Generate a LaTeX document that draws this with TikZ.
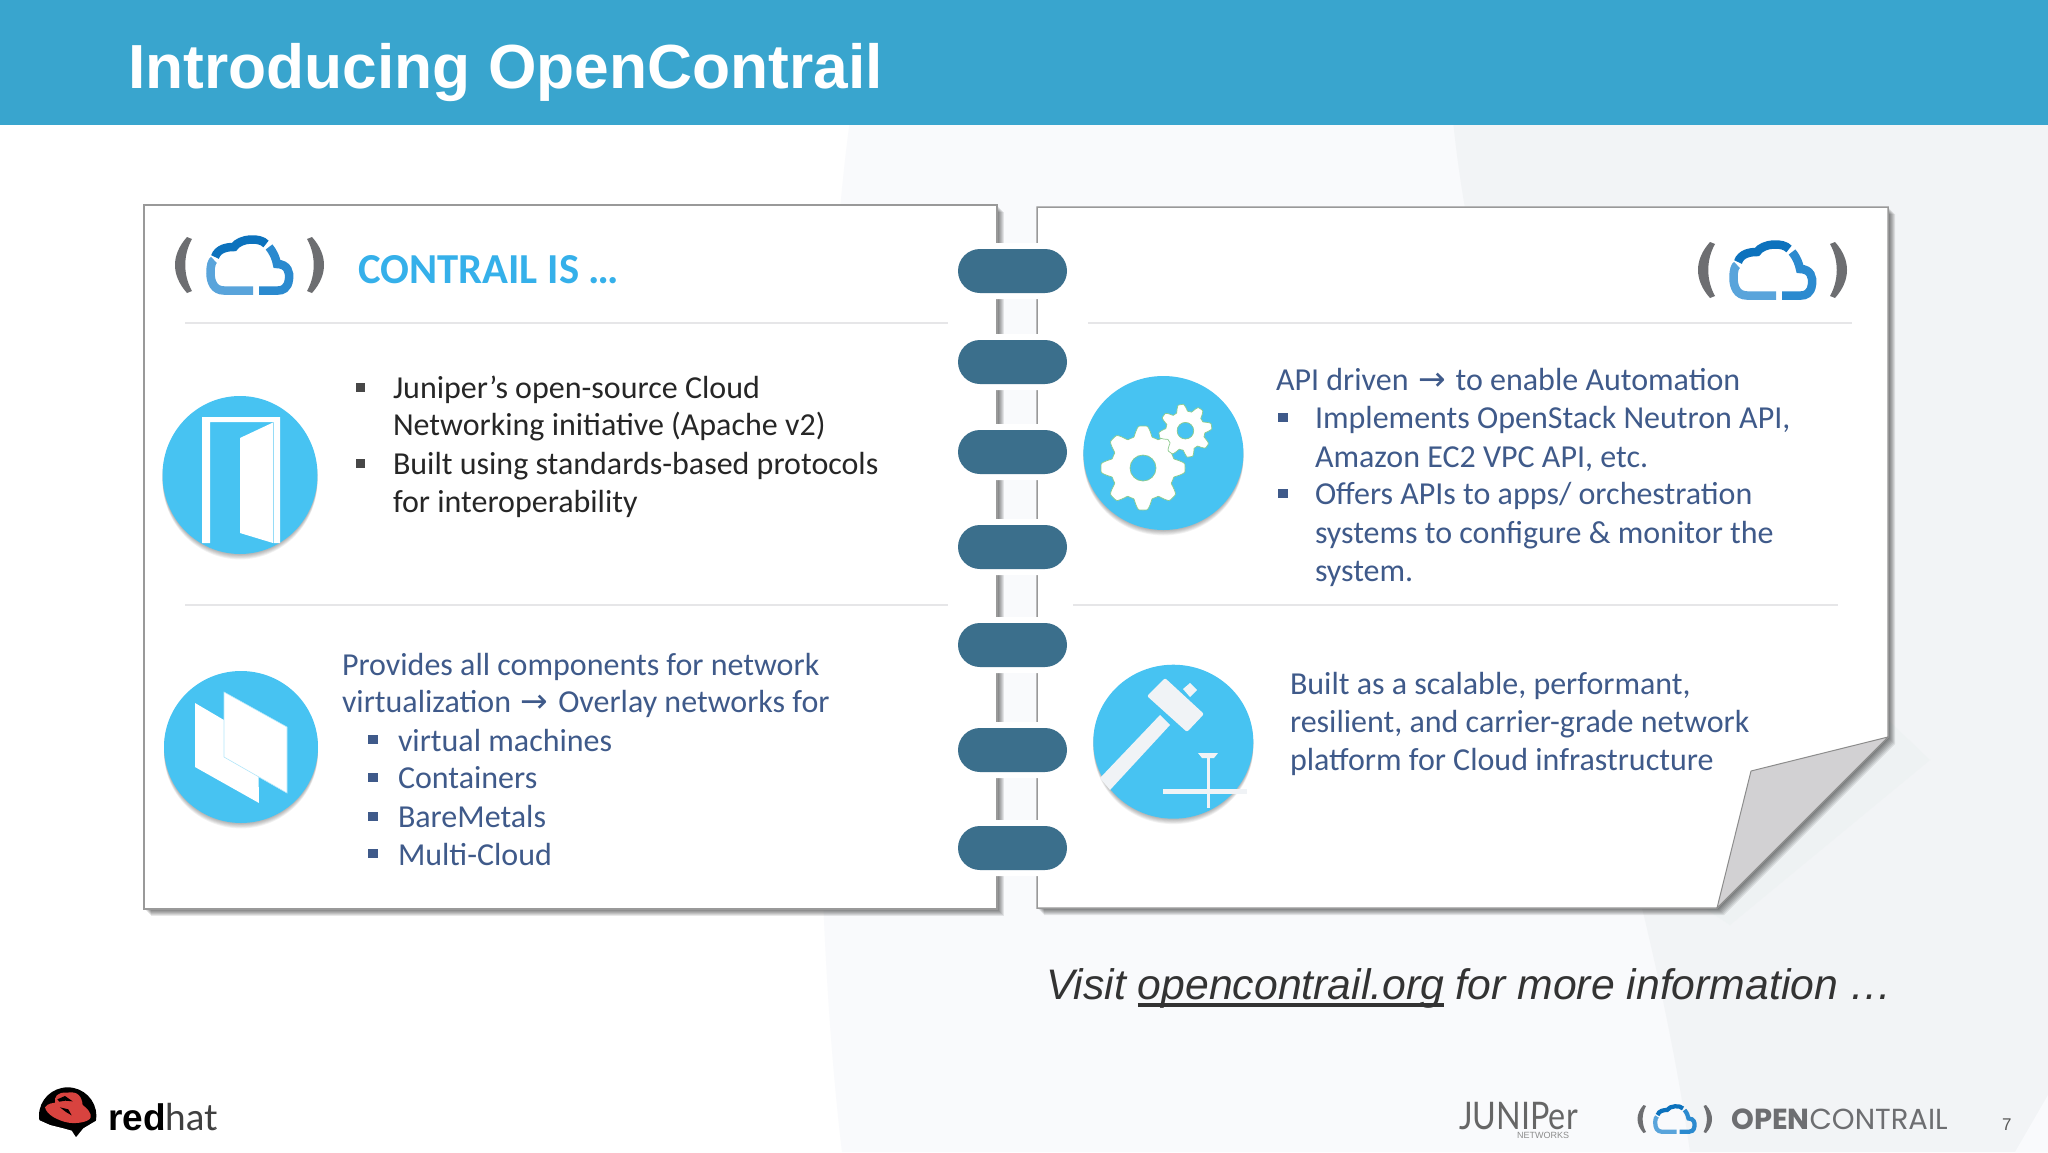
\documentclass[tikz,border=0pt]{standalone}
\usepackage{fontspec}
\setmainfont{Carlito}
\newfontfamily\arialf{Liberation Sans}
\newfontfamily\popf{Poppins}
\newfontfamily\latof{Lato}
\newfontfamily\arrf{DejaVu Sans}
\usetikzlibrary{calc}
\definecolor{headblue}{HTML}{39A5CE}
\definecolor{txtblue}{HTML}{3F5A8A}
\definecolor{txtdark}{HTML}{262626}
\definecolor{sky}{HTML}{47C3F2}
\definecolor{ring}{HTML}{3B6F8C}
\definecolor{rule}{HTML}{E6E6E8}
\definecolor{logogrey}{HTML}{6D6E71}
\definecolor{cdark}{HTML}{0C72BD}
\definecolor{cmid}{HTML}{2B8ACF}
\definecolor{clight}{HTML}{59A4DB}
\definecolor{hatred}{HTML}{D8433F}
\definecolor{bgA}{HTML}{F9FAFC}
\definecolor{bgC}{HTML}{F2F4F6}
\definecolor{bgB}{HTML}{EEF2F3}
\definecolor{iconh}{HTML}{F0F3F6}
\definecolor{foldc}{HTML}{D2D1D3}
\tikzset{
  panel/.style={draw=black!40,line width=1.5pt,fill=white},
  pillin/.style={rounded corners=22pt,fill=ring},
  sep/.style={draw=rule,line width=1.2pt},
  bt/.style={anchor=base west,inner sep=0pt,outer sep=0pt,font=\fontsize{32}{32}\selectfont,text=txtblue},
  bd/.style={bt,text=txtdark},
  bullb/.style={fill=txtblue},
  bulld/.style={fill=txtdark!85},
  disc/.style={fill=sky},
  wshape/.style={fill=white},
}
\newcommand{\softshadow}[1]{%
  \foreach \k in {7,6,5,4,3,2,1}{%
    \fill[black,opacity=0.09,shift={(\k,\k)}] #1;
  }%
}
\newcommand{\discshadow}[3]{%
  \foreach \k in {6,5,4,3,2,1}{%
    \fill[black,opacity=0.05] (#1,#2+\k*0.9) ellipse [#3];
  }%
  \fill[disc] (#1,#2) ellipse [#3];
}
\newcommand{\cloudlogo}[3]{%
\begin{scope}[shift={(#1,#2)},scale=#3]
  \fill[logogrey] (-63,-28) -- (-58,-26) .. controls (-67,-10) and (-67,10) .. (-58,26) -- (-63,28) .. controls (-79,10) and (-79,-10) .. (-63,-28) -- cycle;
  \fill[logogrey] (62,-28) -- (57,-26) .. controls (66,-10) and (66,10) .. (57,26) -- (62,28) .. controls (78,10) and (78,-10) .. (62,-28) -- cycle;
  \begin{scope}[line width=#3*8.5pt]
  \draw[cdark] (-35,-8) .. controls (-32,-17) and (-22,-18) .. (-16,-18) .. controls (-10,-27) and (10,-28) .. (16,-21);
  \draw[cmid] (19,-18) .. controls (24,-12) and (26,-6) .. (27,-1) .. controls (38,-1) and (40,8) .. (39,14) .. controls (38,24) and (32,25.5) .. (28,25.5) -- (9,25.5);
  \draw[clight] (3,25.5) -- (-26,25.5) .. controls (-36,25.5) and (-39.5,17) .. (-39.5,8) .. controls (-39.5,0) and (-38,-4) .. (-36,-5);
  \end{scope}
\end{scope}}
\newcommand{\gear}[6]{%
  \fill[white,draw=green!55!black!45,line width=.7pt] plot[domain=0:360,samples=181,variable=\t] ({#1+(#3+#4*max(-1,min(1,1.5*cos(8*(\t+#6)))))*cos(\t)},{#2+(#3+#4*max(-1,min(1,1.5*cos(8*(\t+#6)))))*sin(\t)}) -- cycle;
  \fill[sky,draw=green!55!black!45,line width=.7pt] (#1,#2) circle [radius=#5];
}
\newcommand{\thickul}[1]{\setbox0\hbox{#1}\rlap{\rule[-7.5pt]{\wd0}{3.5pt}}\box0\relax}
\newcommand{\arr}{\hspace{2.5pt}{\arrf\fontsize{33}{33}\selectfont →}\hspace{2.5pt}}
\begin{document}
\begin{tikzpicture}[x=1pt,y=-1pt]
\useasboundingbox (0,0) rectangle (2048,1152);
% background
\fill[white] (0,0) rectangle (2048,1152);
\fill[bgA] (850,120) .. controls (825,300) and (800,800) .. (842,1152) -- (2048,1152) -- (2048,120) -- cycle;
\fill[bgC] (1453,120) .. controls (1480,400) and (1640,800) .. (1690,1152) -- (2048,1152) -- (2048,120) -- cycle;
\fill[bgB] (1888,720) -- (1700,905) -- (1730,925) -- (1930,760) -- cycle;
\fill[bgA] (2048,1095) -- (2015,1152) -- (2048,1152) -- cycle;
\fill[headblue] (0,0) rectangle (2048,125);
\node[anchor=base west,inner sep=0pt,text=white,font=\arialf\bfseries\fontsize{62.3}{62.3}\selectfont] (title) at (128,88) {Introducing OpenContrail};
% left panel
\softshadow{(144,205) -- (997,205) -- (997,909) -- (144,909) -- cycle}
\draw[panel] (144,205) -- (997,205) -- (997,909) -- (144,909) -- cycle;
% right panel
\softshadow{(1037,207) -- (1888,207) -- (1888,737) -- (1717,908) -- (1037,908) -- cycle}
\draw[panel] (1037,207) -- (1888,207) -- (1888,737) -- (1717,908) -- (1037,908) -- cycle;
\draw[draw=black!45,line width=1pt,fill=foldc] (1888,737) -- (1751,771) -- (1717,908) -- cycle;
% separators
\coordinate (s1a) at (185,323); \coordinate (s1b) at (948,323);
\coordinate (s2a) at (1088,323); \coordinate (s2b) at (1852,323);
\coordinate (s3a) at (185,605); \coordinate (s3b) at (948,605);
\coordinate (s4a) at (1073,605); \coordinate (s4b) at (1838,605);
\draw[sep] (s1a) -- (s1b); \draw[sep] (s2a) -- (s2b); \draw[sep] (s3a) -- (s3b); \draw[sep] (s4a) -- (s4b);
% rings
\foreach \c in {271,362,452,547,645,750,848}{
  \fill[white,rounded corners=28pt] (952,\c-28) rectangle (1073,\c+28);
  \fill[pillin] (958,\c-22) rectangle (1067,\c+22);
}
% logos
\cloudlogo{250}{265}{1}
\cloudlogo{1773}{270}{1}
\cloudlogo{1675}{1119}{0.5}
\node[anchor=base west,inner sep=0pt,text={rgb,255:red,53;green,176;blue,234},font=\bfseries\fontsize{42.7}{42.7}\selectfont] (ci) at (358,283) {CONTRAIL IS …};
% door icon
\discshadow{240}{475}{x radius=77.5,y radius=79}
\fill[wshape] (202,417) -- (280,417) -- (280,543) -- (273.5,543) -- (273.5,422) -- (210,422) -- (210,543) -- (202,543) -- cycle;
\fill[wshape] (240,438) -- (273,422.5) -- (273,543) -- (240,533) -- cycle;
% virtualisation icon
\discshadow{241}{747}{x radius=77,y radius=76}
\fill[wshape] (195,703) -- (258,740) -- (259,803) -- (195,767) -- cycle;
\fill[wshape,draw=sky!40,line width=.6pt] (224,692) -- (287,727) -- (287,793) -- (224,757) -- cycle;
% gear icon
\discshadow{1163.4}{453}{x radius=80,y radius=77}
\gear{1143}{468}{37}{5}{13}{0}
\gear{1185.4}{430.7}{23}{3.5}{8.3}{10}
% hammer icon
\discshadow{1173.3}{741.7}{x radius=80,y radius=77}
\fill[iconh] (1160,715) -- (1170,725) -- (1110,790) -- (1100,778) -- cycle;
\fill[iconh] (1183,689) -- (1190,683) -- (1197,690) -- (1190,697) -- cycle;
\fill[iconh,rounded corners=2pt] (1165,678) -- (1204,714) -- (1187,732) -- (1147,696) -- cycle;
\fill[iconh] (1198,753) -- (1218,753) -- (1214,758) -- (1202,758) -- cycle;
\fill[iconh] (1206.5,758) rectangle (1209.5,808);
\fill[iconh] (1162.5,789) rectangle (1247,793.5);
% left texts
\foreach \y in {387,463}{\fill[bulld] (356,\y-4.5) rectangle (365,\y+4.5);}
\node[bd] (t1) at (393,398) {Juniper’s open-source Cloud};
\node[bd] (t2) at (393,435) {Networking initiative (Apache v2)};
\node[bd] (t3) at (393,474) {Built using standards-based protocols};
\node[bd] (t4) at (393,512) {for interoperability};
\node[bt] (t5) at (342,675) {Provides all components for network};
\node[bt] (t6) at (342,712) {virtualization \arr{} Overlay networks for};
\foreach \y in {739,777,816,853}{\fill[bullb] (368,\y-4.5) rectangle (378,\y+4.5);}
\node[bt] (t7) at (398,751) {virtual machines};
\node[bt] (t8) at (398,788) {Containers};
\node[bt] (t9) at (398,827) {BareMetals};
\node[bt] (t10) at (398,865) {Multi-Cloud};
% right texts
\node[bt] (r1) at (1276,390) {API driven \arr{} to enable Automation};
\foreach \y in {417,493}{\fill[bullb] (1278,\y-4.5) rectangle (1288,\y+4.5);}
\node[bt] (r2) at (1315,428) {Implements OpenStack Neutron API,};
\node[bt] (r3) at (1315,467) {Amazon EC2 VPC API, etc.};
\node[bt] (r4) at (1315,504) {Offers APIs to apps/ orchestration};
\node[bt] (r5) at (1315,543) {systems to configure \& monitor the};
\node[bt] (r6) at (1315,581) {system.};
\node[bt] (r7) at (1290,694) {Built as a scalable, performant,};
\node[bt] (r8) at (1290,732) {resilient, and carrier-grade network};
\node[bt] (r9) at (1290,770) {platform for Cloud infrastructure};
% visit
\node[anchor=base west,inner sep=0pt,text=black!80,font=\arialf\itshape\fontsize{42.7}{42.7}\selectfont] (visit) at (1046,999) {Visit \thickul{opencontrail.org} for more information …};
% red hat logo
\begin{scope}[shift={(0,1060)},scale=1/3]
  \fill[black] (203,167) ellipse [x radius=86,y radius=85];
  \fill[white] (112,178) -- (150,195) -- (190,205) -- (215,212) -- (228,232) -- (250,205) -- (292,180) -- (300,262) -- (110,262) -- cycle;
  \fill[hatred] (135,142) .. controls (145,128) and (160,130) .. (165,128) .. controls (162,110) and (172,96) .. (200,98) .. controls (235,92) and (245,110) .. (248,135) .. controls (262,145) and (275,160) .. (272,172) .. controls (268,185) and (235,192) .. (205,188) .. controls (175,182) and (140,165) .. (135,142) -- cycle;
  \fill[black] (172,118) -- (195,108) -- (218,124) -- (196,122) -- (178,125) -- cycle;
  \fill[black] (180,142) -- (205,148) -- (215,166) -- (198,156) -- cycle;
\end{scope}
\node[anchor=base west,inner sep=0pt,text=black,font=\arialf\fontsize{37}{37}\selectfont] (rh) at (108,1130) {\bfseries red\mdseries\latof\color{black!75}hat};
\fill[black!60] (215,1128) circle [radius=1];
% juniper
\node[anchor=base west,inner sep=0pt,text=black!60,font=\latof\fontsize{38}{38}\selectfont] (jn) at (1459,1129) {\scalebox{0.85}[1]{JUNIPer}};
\node[anchor=base west,inner sep=0pt,text=black!45,font=\arialf\fontsize{9}{9}\selectfont] (jn2) at (1517,1138) {NETWORKS};
% opencontrail
\node[anchor=base west,inner sep=0pt,text=logogrey,font=\popf\fontsize{29}{29}\selectfont] (oc) at (1731,1129) {\bfseries OPEN\mdseries CONTRAIL};
\node[anchor=base west,inner sep=0pt,text=black!65,font=\arialf\fontsize{17}{17}\selectfont] (pg) at (2002,1130) {7};
\end{tikzpicture}
\end{document}
